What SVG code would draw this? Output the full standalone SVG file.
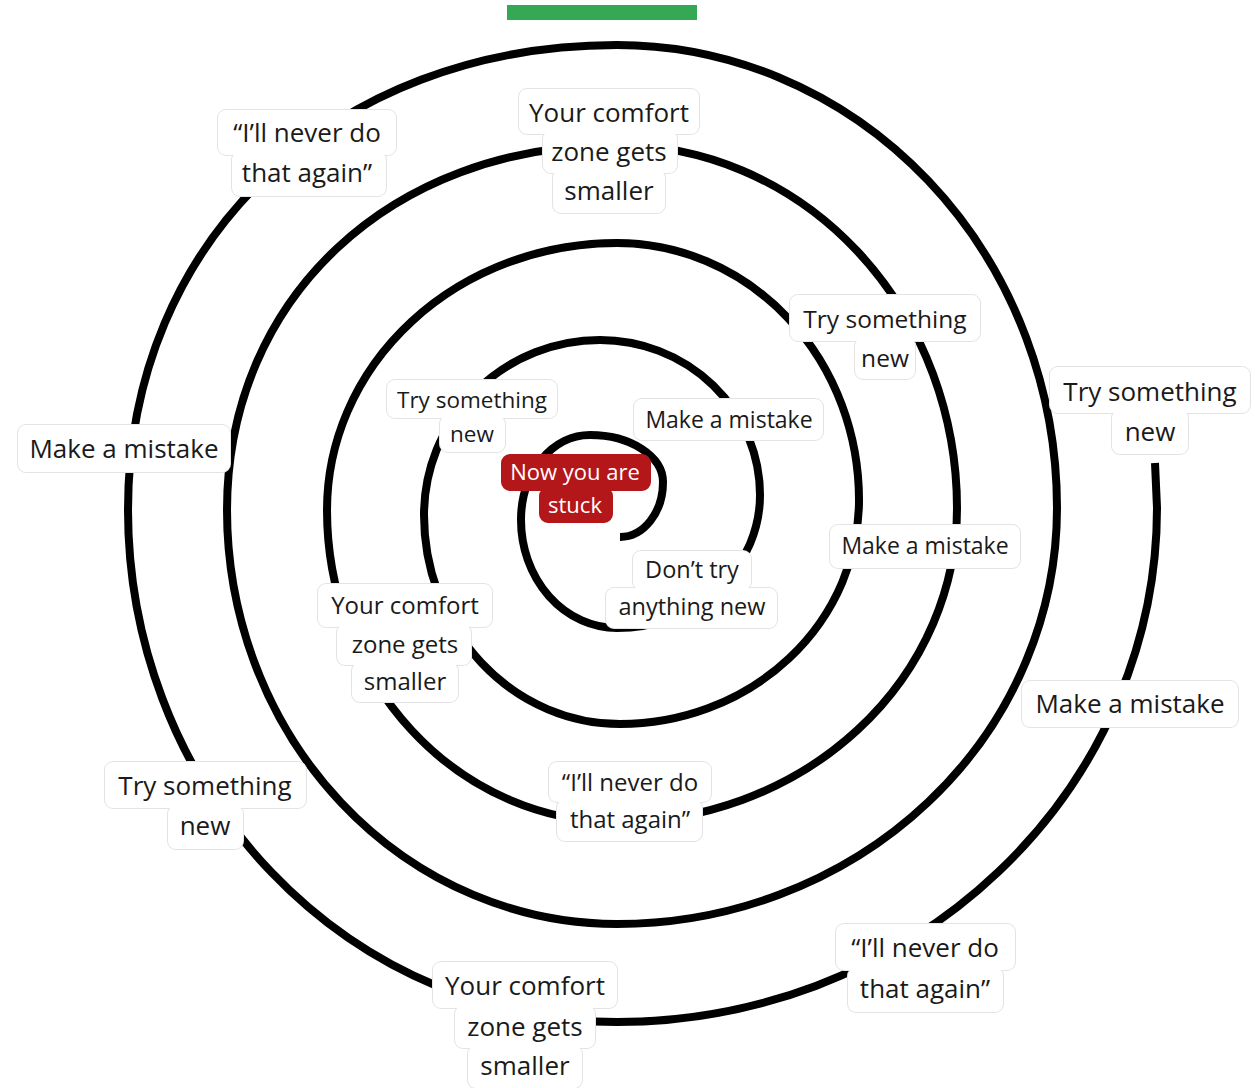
<svg xmlns="http://www.w3.org/2000/svg" width="1255" height="1088" viewBox="0 0 1255 1088">
  <style>
    .spiral { fill: none; stroke: #000; stroke-width: 8; stroke-linecap: butt; stroke-linejoin: round; }
    .edge { fill: #fff; stroke: #e3e3e3; stroke-width: 2; }
    .face { fill: #fff; stroke: none; }
    .red .edge { fill: #b3171a; stroke: #b3171a; }
    .red .face { fill: #b3171a; }
    text { font-family: "Open Sans", "Noto Sans", "Liberation Sans", sans-serif; fill: #1a1a1a; text-anchor: middle; }
    .red text { fill: #fff; }
    .l { font-size: 26px; }
    .m { font-size: 24.5px; }
    .s { font-size: 23px; }
  </style>

  <!-- top bar -->
  <rect id="bar" x="507" y="5" width="190" height="15" fill="#35a853"/>

  <!-- the spiral, drawn as quarter turns from the outer end inwards -->
  <g id="connectors">
    <path class="spiral" d="M1155 463 L1157 508
      A540 514 0 0 1 617 1022
      A489 512 0 0 1 128 510
      C128 240.3 333.4 45 617 45
      A440 463 0 0 1 1057 508
      A440 416 0 0 1 617 924
      A390 414 0 0 1 227 510
      C227 298.3 390.8 145 617 145
      A340 363 0 0 1 957 508
      A340 314 0 0 1 617 822
      A290 312 0 0 1 327 510
      A290 267 0 0 1 617 243
      A242 257 0 0 1 859 500
      A239 224 0 0 1 620 724
      A196 209 0 0 1 424 515
      A176 175 0 0 1 600 340
      A160 155 0 0 1 760 495
      A143 133 0 0 1 617 628
      A96 108 0 0 1 521 520
      A69 85 0 0 1 590 435
      A73 47 0 0 1 663 482
      A43 55 0 0 1 620 537"/>
  </g>

  <!-- labels: edge layer first, then face layer so stacked line boxes merge into one outline -->
  <g id="never-top-left" class="l">
    <rect class="edge" x="218" y="110" width="178" height="45" rx="8"/>
    <rect class="edge" x="232" y="152" width="154" height="44" rx="8"/>
    <rect class="face" x="218" y="110" width="178" height="45" rx="8"/>
    <rect class="face" x="232" y="152" width="154" height="44" rx="8"/>
    <text x="307" y="142">“I’ll never do</text>
    <text x="307" y="182">that again”</text>
  </g>

  <g id="comfort-top" class="l">
    <rect class="edge" x="519" y="89" width="180" height="45" rx="8"/>
    <rect class="edge" x="543" y="131" width="134" height="42" rx="8"/>
    <rect class="edge" x="553" y="170" width="112" height="43" rx="8"/>
    <rect class="face" x="519" y="89" width="180" height="45" rx="8"/>
    <rect class="face" x="543" y="131" width="134" height="42" rx="8"/>
    <rect class="face" x="553" y="170" width="112" height="43" rx="8"/>
    <text x="609" y="122">Your comfort</text>
    <text x="609" y="161">zone gets</text>
    <text x="609" y="200">smaller</text>
  </g>

  <g id="try-mid-right" class="m">
    <rect class="edge" x="790" y="295" width="190" height="46" rx="8"/>
    <rect class="edge" x="855" y="338" width="60" height="41" rx="8"/>
    <rect class="face" x="790" y="295" width="190" height="46" rx="8"/>
    <rect class="face" x="855" y="338" width="60" height="41" rx="8"/>
    <text x="885" y="328">Try something</text>
    <text x="885" y="367">new</text>
  </g>

  <g id="try-far-right" class="l">
    <rect class="edge" x="1050" y="367" width="200" height="46" rx="8"/>
    <rect class="edge" x="1112" y="410" width="76" height="44" rx="8"/>
    <rect class="face" x="1050" y="367" width="200" height="46" rx="8"/>
    <rect class="face" x="1112" y="410" width="76" height="44" rx="8"/>
    <text x="1150" y="401">Try something</text>
    <text x="1150" y="441">new</text>
  </g>

  <g id="mistake-left" class="l">
    <rect class="edge" x="18" y="425" width="212" height="47" rx="8"/>
    <rect class="face" x="18" y="425" width="212" height="47" rx="8"/>
    <text x="124" y="458">Make a mistake</text>
  </g>

  <g id="try-inner" class="s" style="font-size:22.5px">
    <rect class="edge" x="387" y="380" width="170" height="38" rx="8"/>
    <rect class="edge" x="440" y="416" width="65" height="36" rx="8"/>
    <rect class="face" x="387" y="380" width="170" height="38" rx="8"/>
    <rect class="face" x="440" y="416" width="65" height="36" rx="8"/>
    <text x="472" y="408">Try something</text>
    <text x="472" y="442">new</text>
  </g>

  <g id="mistake-inner" class="s">
    <rect class="edge" x="634" y="399" width="189" height="41" rx="8"/>
    <rect class="face" x="634" y="399" width="189" height="41" rx="8"/>
    <text x="729" y="428">Make a mistake</text>
  </g>

  <g id="stuck" class="red" style="font-size:22px">
    <rect class="edge" x="502" y="455" width="148" height="35" rx="8"/>
    <rect class="edge" x="540" y="488" width="72" height="34" rx="8"/>
    <rect class="face" x="502" y="455" width="148" height="35" rx="8"/>
    <rect class="face" x="540" y="488" width="72" height="34" rx="8"/>
    <text x="575" y="480">Now you are</text>
    <text x="575" y="513">stuck</text>
  </g>

  <g id="mistake-right" class="s">
    <rect class="edge" x="830" y="525" width="190" height="43" rx="8"/>
    <rect class="face" x="830" y="525" width="190" height="43" rx="8"/>
    <text x="925" y="554">Make a mistake</text>
  </g>

  <g id="dont-try" class="s" style="font-size:23.5px">
    <rect class="edge" x="633" y="551" width="118" height="39" rx="8"/>
    <rect class="edge" x="606" y="588" width="171" height="40" rx="8"/>
    <rect class="face" x="633" y="551" width="118" height="39" rx="8"/>
    <rect class="face" x="606" y="588" width="171" height="40" rx="8"/>
    <text x="692" y="578">Don’t try</text>
    <text x="692" y="615">anything new</text>
  </g>

  <g id="comfort-inner" class="s" style="font-size:24px">
    <rect class="edge" x="318" y="584" width="174" height="43" rx="8"/>
    <rect class="edge" x="337" y="625" width="134" height="40" rx="8"/>
    <rect class="edge" x="352" y="663" width="106" height="39" rx="8"/>
    <rect class="face" x="318" y="584" width="174" height="43" rx="8"/>
    <rect class="face" x="337" y="625" width="134" height="40" rx="8"/>
    <rect class="face" x="352" y="663" width="106" height="39" rx="8"/>
    <text x="405" y="614">Your comfort</text>
    <text x="405" y="653">zone gets</text>
    <text x="405" y="690">smaller</text>
  </g>

  <g id="never-mid" class="m" style="font-size:24px">
    <rect class="edge" x="549" y="762" width="162" height="40" rx="8"/>
    <rect class="edge" x="557" y="800" width="145" height="41" rx="8"/>
    <rect class="face" x="549" y="762" width="162" height="40" rx="8"/>
    <rect class="face" x="557" y="800" width="145" height="41" rx="8"/>
    <text x="630" y="791">“I’ll never do</text>
    <text x="630" y="828">that again”</text>
  </g>

  <g id="try-bottom-left" class="l">
    <rect class="edge" x="105" y="762" width="201" height="46" rx="8"/>
    <rect class="edge" x="168" y="806" width="75" height="43" rx="8"/>
    <rect class="face" x="105" y="762" width="201" height="46" rx="8"/>
    <rect class="face" x="168" y="806" width="75" height="43" rx="8"/>
    <text x="205" y="795">Try something</text>
    <text x="205" y="835">new</text>
  </g>

  <g id="mistake-bottom-right" class="l">
    <rect class="edge" x="1022" y="681" width="216" height="46" rx="8"/>
    <rect class="face" x="1022" y="681" width="216" height="46" rx="8"/>
    <text x="1130" y="713">Make a mistake</text>
  </g>

  <g id="never-bottom-right" class="l">
    <rect class="edge" x="836" y="924" width="179" height="46" rx="8"/>
    <rect class="edge" x="848" y="968" width="155" height="44" rx="8"/>
    <rect class="face" x="836" y="924" width="179" height="46" rx="8"/>
    <rect class="face" x="848" y="968" width="155" height="44" rx="8"/>
    <text x="925" y="957">“I’ll never do</text>
    <text x="925" y="998">that again”</text>
  </g>

  <g id="comfort-bottom" class="l">
    <rect class="edge" x="433" y="962" width="184" height="46" rx="8"/>
    <rect class="edge" x="455" y="1006" width="140" height="42" rx="8"/>
    <rect class="edge" x="468" y="1046" width="114" height="42" rx="8"/>
    <rect class="face" x="433" y="962" width="184" height="46" rx="8"/>
    <rect class="face" x="455" y="1006" width="140" height="42" rx="8"/>
    <rect class="face" x="468" y="1046" width="114" height="42" rx="8"/>
    <text x="525" y="995">Your comfort</text>
    <text x="525" y="1036">zone gets</text>
    <text x="525" y="1075">smaller</text>
  </g>
</svg>
